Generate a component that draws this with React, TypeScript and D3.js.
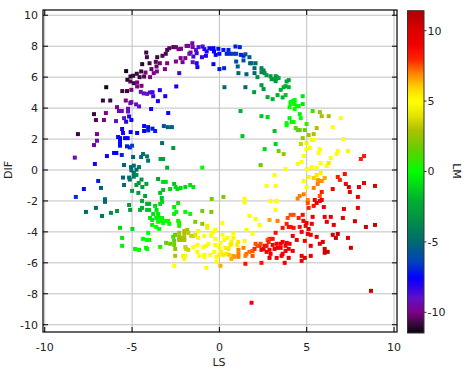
import React from "react";
import * as d3 from "d3";

// [LS, DIF, LM], grouped by region
const upperLeft: [number, number, number][] = [
  [-2.87,7.87,-10.5],[-2.64,7.94,-10.5],[-2.49,7.94,-10.3],[-2.34,7.81,-10],[-2.2,7.83,-10],[-1.88,8.02,-9.8],[-1.78,8.02,-9.8],[-1.55,8.19,-9.8],[-1.53,7.94,-9.5],[-1.34,7.76,-9],
  [-1.19,7.94,-8.8],[-0.96,7.98,-8.5],[-0.86,7.81,-8.2],[-0.73,7.66,-8],[-0.57,7.87,-7.8],[-0.44,7.83,-7.6],[-0.34,7.87,-7.5],[-0.31,7.66,-7.5],[-0.21,7.44,-7.5],[-0.06,7.83,-7.4],
  [0,7.51,-7.3],[0.23,7.76,-7.2],[0.52,7.76,-7],[0.61,7.51,-6.8],[0.92,7.98,-7],[0.96,7.51,-6.5],[0.8,7.51,-6.6],[0.42,7.51,-7],[-0.77,7.38,-8],[-1.0,7.29,-8.3],
  [-1.3,7.55,-8.5],[-1.65,7.59,-9.6],[-1.72,7.51,-9.4],[-1.49,7.33,-8.5],[-1.53,6.97,-9],[-1.3,6.9,-8],[-1.26,6.65,-7.8],[-0.34,6.84,-7.5],[0,6.52,-7.2],[0.27,6.58,-7],
  [0.96,7.01,-6.2],[1.05,6.69,-5.5],[1.09,6.26,-5],[0.29,5.35,-5],[-2.11,6.97,-9.8],[-1.95,7.23,-10],[-2.22,7.23,-10],[-2.49,7.01,-10],[-2.3,6.26,-8.5],[-2.47,5.4,-7.8],
  [-2.99,6.9,-10],[-3.12,6.52,-10],[-3.41,6.9,-10.2],[-3.56,7.29,-10.8],[-3.26,7.38,-10.6],[-3.07,7.51,-10.6],[-2.99,7.76,-10.6],[-4.19,7.59,-10.8],[-4.15,7.29,-10.6],[-4.0,6.9,-10.8],
  [-3.64,6.99,-10.5],[-3.6,6.69,-10.3],[-3.89,6.52,-10.3],[-3.76,6.26,-10],[-4.23,6.3,-10],[-4.42,6.84,-11],[-4.48,6.37,-10.8],[-4.73,6.22,-10.8],[-4.57,6.0,-10.8],[-4.31,6.04,-10.6],
  [-3.97,6.0,-10],[-3.58,6.37,-10],[-5.34,6.39,-11.3],[-5.09,6.04,-11],[-4.94,6.09,-10.8],[-5.27,5.83,-11],[-5.1,5.72,-10.5],[-4.9,5.61,-10.8],[-4.71,5.66,-10],[-4.71,5.4,-10],
  [-4.46,5.44,-10],[-5.04,5.18,-10],[-5.29,5.1,-10.8],[-5.56,5.1,-10.8],[-6.48,5.35,-11.3],[-6.67,4.49,-10.8],[-6.25,4.49,-10.8],[-5.86,4.06,-10],[-5.75,3.81,-9.5],[-5.59,3.81,-9.2],
  [-5.36,4.49,-10],[-5.1,4.32,-9.5],[-5.04,4.39,-9.5],[-5.23,3.96,-9.3],[-5.23,3.78,-9],[-4.77,4.24,-9],[-4.6,4.11,-9],[-4.5,5.05,-9.2],[-4.33,4.95,-9],[-4.14,4.92,-9],
  [-3.98,5.01,-8.8],[-3.83,5.03,-8.5],[-3.79,4.77,-8.5],[-3.41,5.16,-8],[-3.1,4.77,-7.8],[-3.52,4.45,-7.8],[-3.91,3.94,-7.8],[-2.93,3.68,-7.6],[-5.17,3.46,-8],[-5.46,3.35,-9],
  [-5.34,3.12,-8],[-5.04,3.23,-7.8],[-7.18,3.61,-10.8],[-7.07,3.23,-10.5],[-6.5,3.68,-10],[-6.61,3.23,-10],[-5.92,3.16,-9],[-8.1,2.32,-10.8],[-7.01,2.32,-9.8],[-7.01,1.89,-9.3],
  [-7.18,1.61,-9.5],[-8.28,0.8,-9.3],[-7.13,0.39,-7.8],[-5.57,2.65,-7.8],[-5.52,2.39,-8],[-5.08,2.45,-7.5],[-4.71,2.39,-7.5],[-4.31,2.84,-7.5],[-4.08,2.77,-7.3],[-4.31,2.52,-7.5],
  [-3.83,2.67,-7.2],[-4.08,2.56,-7],[-3.68,2.52,-7],[-3.18,2.84,-6],[-2.95,2.77,-5.5],[-2.72,2.77,-5.3],[-5.8,2.13,-7.5],[-5.69,2.06,-7.5],[-5.4,2.06,-7.5],[-5.25,2.06,-7.5],
  [-5.69,1.81,-7.3],[-5.29,1.53,-7],[-5.13,1.46,-7],[-5.0,1.57,-6.5],[-5.69,1.57,-7.3],[-6.03,1.1,-7.5],[-5.9,1.1,-7.5],[-5.59,0.97,-7],[-6.44,0.9,-7.8],[-4.94,0.84,-5.3],
  [-4.48,0.84,-5],[-4.37,1.03,-5],[-4.14,0.88,-4.5],[-4.08,0.6,-4.5],[-3.28,1.74,-5],[-2.64,1.42,-3],[-3.37,0.71,-2.5],[-3.22,0.71,-2.5],[-5.46,0.32,-5.3],[-5.06,0.19,-5],
  [-4.9,0.28,-5],[-4.6,0.19,-4.2],[-5.04,-0.02,-5],[-4.9,-0.19,-4.8],[-4.75,0.02,-4.8],[-2.99,0.15,-2],[-0.98,0.15,0],[-5.52,-0.49,-5.3],[-5.17,-0.49,-4.8],[-5.13,-0.62,-4.5],
  [-4.9,-0.43,-4.5],[-4.75,-0.32,-3.5],[-4.46,-0.62,-3.5],[-6.94,-0.71,-7],[-7.76,-1.23,-7.3],[-5.46,-0.97,-5],[-4.75,-0.97,-3],[-4.62,-0.84,-3],[-4.41,-1.1,-3],[-4.18,-0.9,-2.5],
  [-3.51,-0.58,-2.5],[-3.22,-0.77,-1],[-3.07,-0.77,-1],[-2.59,-0.9,-1.5],[-2.51,-1.1,-1],[-2.22,-1.16,-1],[-1.95,-1.1,-1],[-1.67,-0.97,-0.8],[-1.49,-1.1,-0.5],[-2.4,-1.23,-1],
];

const lowerLeft: [number, number, number][] = [
  [-8.22,-1.74,-6.8],[-6.78,-1.16,-5.5],[-6.55,-1.89,-5],[-6.55,-2.06,-5],[-7.64,-2.71,-5],[-7.07,-2.45,-5],[-6.72,-2.97,-4.5],[-6.21,-2.77,-3.5],[-5.86,-2.65,-3],[-5.0,-1.35,-3],
  [-4.64,-1.48,-3],[-4.43,-2.0,-2.5],[-4.25,-1.68,-2.5],[-5.17,-2.26,-3],[-5.11,-2.58,-3],[-4.54,-2.58,-2],[-4.43,-2.45,-2],[-4.14,-2.19,-2],[-4.02,-2.19,-2],[-4.14,-2.58,-1.5],
  [-4.02,-2.58,-1.5],[-3.68,-2.32,-1],[-3.39,-2.19,-1],[-3.28,-2.06,-1],[-3.3,-1.81,-1.5],[-3.39,-1.48,-1.5],[-3.22,-1.29,-1.5],[-2.82,-1.23,-1.2],[-2.36,-2.13,-0.5],[-3.6,-2.58,-0.8],
  [-3.79,-2.84,-0.8],[-3.97,-3.1,-0.5],[-3.85,-3.23,-0.5],[-3.51,-2.84,-0.5],[-3.62,-3.1,-0.3],[-3.45,-3.1,-0.3],[-3.28,-3.1,-0.3],[-3.33,-3.29,0],[-3.51,-3.35,0],[-3.1,-3.29,0],
  [-2.93,-3.29,0],[-2.87,-3.48,0.2],[-3.22,-3.42,0],[-3.62,-3.68,0],[-3.45,-3.81,0],[-3.85,-3.55,-0.3],[-2.59,-2.84,-0.2],[-2.47,-2.71,-0.2],[-2.59,-2.39,-0.3],[-2.36,-3.29,0.2],
  [-2.3,-3.42,0.5],[-2.3,-3.61,0.5],[-1.95,-2.71,0],[-1.67,-2.84,0.2],[-1.38,-3.35,2],[-0.98,-2.65,2],[-0.98,-3.48,2.5],[-0.69,-3.61,4.5],[-0.69,-3.74,4.5],[-0.44,-1.87,2],
  [0.23,-1.74,2],[-0.46,-2.71,2],[-5.69,-3.74,-1],[-4.98,-3.81,-1],[-5.57,-4.39,-0.5],[-5.57,-4.9,-0.3],[-4.83,-5.1,0],[-4.6,-5.16,0],[-4.37,-4.45,0],[-4.14,-4.52,0],
  [-4.02,-4.52,0],[-4.2,-5.03,0],[-4.14,-5.1,0],[-4.08,-4.06,0],[-3.39,-4.97,0.5],[-3.05,-4.71,1.5],[-2.82,-4.77,1.5],[-2.59,-4.84,2],[-2.59,-4.58,1.5],[-2.64,-4.32,1],
  [-2.53,-4.19,1.5],[-2.3,-4.06,3],[-2.3,-4.32,2.5],[-2.3,-4.52,2.5],[-2.13,-4.52,2.8],[-2.01,-4.52,3],[-2.01,-4.39,3],[-2.18,-4.39,2.8],[-1.84,-3.87,3],[-1.78,-4.06,3.2],
  [-2.01,-3.94,3],[-2.01,-4.13,3],[-1.61,-4.26,3.5],[-1.49,-4.26,3.5],[-1.38,-4.19,4],[-1.21,-3.94,4.8],[-1.21,-4.39,4.8],[-2.53,-5.1,2.5],[-2.53,-5.55,3],[-2.59,-6.19,5],
  [-2.07,-5.55,4.5],[-1.95,-5.55,4.8],[-2.01,-5.74,4.8],[-1.9,-5.1,3.5],[-1.78,-5.16,3.5],[-1.95,-4.97,3.5],[-1.49,-4.97,5],[-1.26,-4.84,5],[-1.26,-5.29,5],[-1.15,-5.55,5],
  [-0.92,-4.97,5],[-0.86,-5.48,5],[-0.86,-5.61,5],[-0.75,-4.9,5],[-0.63,-4.77,5],[-0.86,-4.26,5],[-0.46,-4.26,5],[-0.46,-4.13,5],[-0.34,-4.0,5],[-0.23,-3.87,5],
  [-0.52,-5.48,5],[-0.29,-5.29,5],[-0.23,-4.45,5],[-0.23,-4.84,5],[0.06,-4.71,5],[0,-5.03,5],[0.11,-5.29,5.2],[-0.17,-5.61,5],[-0.17,-5.94,5],[0.17,-4.19,5],
  [0.17,-3.42,5],[0.8,-4.06,5.2],[0.46,-4.39,5],[0.8,-4.39,5.2],[0.29,-4.52,5],[0.69,-4.77,5.3],[0.69,-4.65,5.3],[0.34,-5.03,5.3],[0.52,-5.1,5.5],[0.4,-5.42,5.5],
  [0,-5.48,5.3],[0.23,-5.48,5.5],[0.57,-5.48,6],[0.8,-5.55,6.5],[0.86,-5.61,6.8],[1.09,-5.16,7],[1.09,-5.42,7],[1.09,-5.61,7],[0.69,-5.74,6.5],[0.06,-6.19,6.5],
  [-0.75,-6.32,5],[0.63,-4.84,5.5],[1.07,-4.65,5.5],[1.03,-4.84,5.5],
];

const upperRight: [number, number, number][] = [
  [1.17,7.94,-7],[1.23,7.44,-7],[1.38,7.38,-7],[1.49,7.48,-6],[1.72,7.29,-5.5],[1.76,6.9,-5.5],[1.84,6.9,-5.3],[2.07,6.9,-5],[1.38,7.08,-6],[2.01,6.58,-5],
  [2.01,6.26,-5],[1.55,6.19,-5.5],[2.41,6.58,-4],[2.53,6.43,-4],[2.41,6.32,-4],[2.59,6.26,-3.5],[2.7,6.13,-3],[2.93,6.06,-3],[3.22,6.06,-3],[2.99,5.87,-3],
  [3.1,5.87,-3],[3.22,5.87,-2.5],[3.28,6.0,-3],[3.39,5.94,-2.5],[3.22,5.74,-3],[3.85,5.72,-2.5],[3.97,5.81,-2.5],[2.18,6.0,-3.5],[2.41,5.48,-3],[2.53,5.23,-3],
  [1.99,5.03,-3],[1.49,5.35,-5],[2.76,4.71,-2],[3.05,4.58,-2],[3.33,4.84,-2],[3.51,5.18,-2],[3.68,5.35,-2],[3.79,5.42,-2],[3.97,5.35,-2],[3.62,4.69,-2],
  [3.79,4.84,-1.5],[4.08,4.39,0],[4.2,4.45,0],[4.08,4.26,0],[4.31,4.26,0],[4.43,4.13,0],[4.54,4.13,0],[4.31,4.52,0],[4.02,4.06,0],[4.31,3.94,0],
  [4.77,4.77,-0.5],[4.77,4.26,-0.5],[1.21,3.81,-2],[2.41,3.48,-1.5],[2.76,3.42,-1],[4.02,3.35,-0.3],[4.6,3.61,-0.3],[4.66,3.35,0],[4.14,3.1,0],[4.25,3.1,0],
  [3.85,3.03,0],[3.85,2.9,0],[4.37,2.71,1],[4.48,2.58,1.5],[4.6,2.58,1.5],[4.89,2.58,1.5],[4.99,2.97,1],[5.34,3.81,1],[5.75,3.74,2.5],[5.86,3.48,3],
  [6.26,3.48,3],[6.95,3.35,5],[5.57,2.71,3],[6.49,2.77,5],[3.16,2.52,-1.5],[1.32,2.19,-1.5],[4.77,2.06,2.5],[5.11,2.26,3],[5.4,2.32,3],[5.29,1.94,5],
  [5.4,1.94,5],[4.99,1.74,4.5],[4.66,1.68,3.5],[7.09,2.0,5],[3.22,1.68,-1],[2.59,1.35,-1],[3.39,1.23,2],[3.68,1.03,2.5],[2.36,0.32,1.5],[4.99,1.35,5],
  [5.17,1.42,5],[5.75,1.35,5],[5.69,1.1,5],[6.78,1.23,5],[6.72,1.03,5],[7.36,1.23,5.2],[6.38,0.77,5],[4.83,0.9,5],[4.71,0.52,5],[4.48,0.39,5],
  [3.79,0.06,5],[3.16,-0.32,5],[2.7,-1.03,5],[3.22,-1.03,5],[4.83,-0.71,5],[4.99,-1.1,5],[5.02,0.06,5],[5.11,-0.45,5.3],[5.29,0.19,5],[5.57,0.13,5],
  [5.8,0.45,5],[5.8,-0.19,5.3],[6.15,0.26,5],[6.26,0.45,5.5],[5.57,-0.32,5.5],[5.4,-0.52,6],[5.63,-0.64,6.5],[5.75,-0.71,6.8],[5.86,-0.71,6.8],[6.03,-0.52,6.5],
  [5.63,-0.9,7],[5.4,-1.16,7],[6.78,-0.45,8.2],[6.9,-0.64,8],[7.18,-0.26,8.5],[7.24,-0.9,9],[7.41,-1.1,9.5],[7.99,-1.1,9.5],[8.28,-0.84,9.5],[8.91,-1.03,10],
  [8.1,0.71,8],[8.28,0.9,8.2],[6.49,-1.23,9],
];

const lowerRight: [number, number, number][] = [
  [1.44,-1.85,5],[1.44,-2.11,5],[2.93,-2.0,5],[3.28,-2.0,5],[3.22,-2.58,5],[1.72,-2.97,5],[2.07,-3.16,5],[2.3,-3.55,5],[1.55,-3.87,5],[1.9,-4.13,5],
  [2.87,-3.23,6.5],[3.33,-3.29,7],[3.91,-3.1,7.5],[4.08,-2.9,7.5],[4.25,-2.9,7.5],[4.54,-3.1,8],[4.77,-2.9,8.5],[3.85,-3.48,8],[3.97,-3.68,8.5],[4.08,-3.68,8.5],
  [4.25,-3.74,8.5],[3.62,-3.74,8.5],[3.22,-4.06,8.5],[4.71,-4.0,9],[4.6,-3.68,8.5],[4.81,-3.29,9],[4.94,-3.61,9],[4.99,-3.42,9],[5.29,-3.48,9],[5.11,-3.81,9],
  [4.48,-1.85,7],[4.6,-1.68,7],[4.83,-1.57,7],[5.06,-1.94,7],[5.06,-2.13,7.5],[5.11,-2.45,8],[5.4,-2.32,8.5],[5.46,-1.94,9],[5.57,-2.13,9],[5.75,-2.0,9],
  [5.86,-1.94,9],[5.86,-1.42,8.2],[5.75,-1.68,7.5],[5.98,-2.39,9],[5.34,-3.03,9],[6.15,-3.35,9.2],[6.03,-3.03,9.2],[6.38,-3.03,9.2],[6.55,-3.55,9.5],[7.07,-3.1,9.5],
  [7.13,-2.52,9.5],[7.93,-2.45,9.5],[7.93,-1.74,9.5],[7.47,-1.42,9.5],[7.76,-3.31,10.5],[8.39,-3.68,10.5],[8.91,-3.55,10.5],[6.49,-4.19,10.5],[6.67,-4.39,10.5],[6.78,-4.13,10.5],
  [7.36,-4.39,10],[7.53,-5.03,10.5],[5.57,-4.32,9.5],[5.23,-4.19,9],[5.06,-4.13,9],[4.89,-4.58,9],[5.23,-4.9,9.5],[5.75,-4.77,9.5],[5.92,-4.65,9.8],[6.03,-5.1,10.5],
  [6.2,-5.29,10.5],[6.03,-5.35,10.5],[5.23,-5.55,9.5],[4.89,-5.68,9.5],[4.71,-5.87,9.5],[4.43,-4.52,9],[4.2,-4.26,9],[4.02,-4.77,9],[4.2,-5.23,9],[3.97,-5.1,9],
  [3.79,-4.9,9],[3.79,-5.23,9],[3.85,-4.71,9],[3.62,-4.65,9],[3.51,-4.77,9],[3.51,-5.03,9],[3.62,-5.42,9],[3.56,-5.55,9],[3.33,-5.03,9],[3.28,-4.77,9],
  [3.16,-5.1,9],[3.05,-4.45,8.5],[3.05,-4.84,9],[2.87,-4.45,8],[2.76,-4.52,7.5],[2.82,-4.65,8],[2.7,-4.9,8.5],[2.87,-5.16,9],[2.7,-5.29,9],[2.93,-5.42,9],
  [2.87,-5.68,9],[3.28,-5.68,9],[3.97,-5.68,9],[3.74,-6.0,9],[2.41,-5.16,9],[2.53,-5.1,9],[2.59,-4.9,8.5],[2.3,-4.9,8.5],[2.36,-4.77,7.5],[2.18,-4.9,7.5],
  [2.07,-4.77,7.5],[2.01,-5.1,8],[1.9,-5.23,7.5],[1.9,-5.55,7.5],[1.72,-5.29,7.2],[1.55,-5.42,7.2],[1.49,-5.55,7],[1.38,-5.03,7],[1.44,-4.58,5],[2.41,-6.0,8.5],
  [1.49,-6.06,8.5],[4.71,-5.55,9.5],[1.84,-8.58,9],[8.68,-7.81,10.5],
];

const xTicks = [-10, -5, 0, 5, 10];
const yTicks = [-10, -8, -6, -4, -2, 0, 2, 4, 6, 8, 10];
const cbTicks = [-10, -5, 0, 5, 10];
const cbStopValues = [-11.5, -10.8, -10, -9, -8, -7.5, -6.5, -5, -3.5, -2, 0, 1.5, 3, 4, 5, 6, 7, 8, 9, 10, 11.4];
const cbStopColors = ["#08000f", "#3a0a3e", "#800088", "#6010c8", "#2000f0", "#0000ff", "#0040c0", "#006a70", "#008f48", "#00b030", "#00ff00", "#60d000", "#b0c000", "#e6e600", "#ffff00", "#ffd000", "#ff8000", "#ff2000", "#f00000", "#dd0000", "#b00000"];

export default function App() {
  const W = 468, H = 370;
  const x = d3.scaleLinear().domain([-10.1, 10.17]).range([43, 397]);
  const y = d3.scaleLinear().domain([-10.47, 10.34]).range([332, 10]);
  const color = d3.scaleLinear<string>().domain(cbStopValues).range(cbStopColors).clamp(true);
  const cb = d3.scaleLinear().domain([-11.47, 11.42]).range([333, 10.7]);
  const all = [...upperLeft, ...lowerLeft, ...upperRight, ...lowerRight];
  const font = "DejaVu Sans, sans-serif";
  const sz = 4;
  const gradStops = d3.range(0, 101).map((i) => {
    const v = 11.42 - (i / 100) * (11.42 + 11.47);
    return { off: i, col: color(v) };
  });
  const fmt = (t: number) => String(t);
  return (
    <svg width={W} height={H} style={{ position: "absolute", left: 0, top: 0, background: "#fff" }} fontFamily={font}>
      <defs>
        <linearGradient id="cbg" x1="0" y1="0" x2="0" y2="1">
          {gradStops.map((s, i) => (
            <stop key={i} offset={`${s.off}%`} stopColor={s.col} />
          ))}
        </linearGradient>
        <clipPath id="plotclip"><rect x={43} y={10} width={354} height={322} /></clipPath>
      </defs>
      <rect x={0} y={0} width={W} height={H} fill="#fff" />
      {xTicks.map((t) => (
        <line key={"gx" + t} x1={x(t)} x2={x(t)} y1={10} y2={332} stroke="#c0c0c0" strokeWidth={1} />
      ))}
      {yTicks.map((t) => (
        <line key={"gy" + t} x1={43} x2={397} y1={y(t)} y2={y(t)} stroke="#c0c0c0" strokeWidth={1} />
      ))}
      <g clipPath="url(#plotclip)">
        {all.map((p, i) => (
          <rect key={i} x={x(p[0]) - sz / 2} y={y(p[1]) - sz / 2} width={sz} height={sz} fill={color(p[2])} />
        ))}
      </g>
      {xTicks.map((t) => (
        <g key={"tx" + t}>
          <line x1={x(t)} x2={x(t)} y1={332} y2={327} stroke="#000" />
          <line x1={x(t)} x2={x(t)} y1={10} y2={15} stroke="#000" />
          <text x={x(t)} y={351} textAnchor="middle" fontSize={11} fill="#222">{fmt(t)}</text>
        </g>
      ))}
      {yTicks.map((t) => (
        <g key={"ty" + t}>
          <line x1={43} x2={48} y1={y(t)} y2={y(t)} stroke="#000" />
          <line x1={397} x2={392} y1={y(t)} y2={y(t)} stroke="#000" />
          <text x={38} y={y(t) + 4} textAnchor="end" fontSize={11} fill="#222">{fmt(t)}</text>
        </g>
      ))}
      <rect x={43} y={10} width={354} height={322} fill="none" stroke="#000" strokeWidth={1.2} />
      <text x={219} y={366} textAnchor="middle" fontSize={11} fill="#222">LS</text>
      <text transform={`translate(12,${y(0)}) rotate(-90)`} textAnchor="middle" fontSize={11} fill="#222">DIF</text>
      <rect x={407.5} y={10.7} width={16.5} height={322.3} fill="url(#cbg)" stroke="#333" strokeWidth={1} />
      {cbTicks.map((t) => (
        <g key={"cb" + t}>
          <line x1={424} x2={426.5} y1={cb(t)} y2={cb(t)} stroke="#333" />
          <text x={427.5} y={cb(t) + 4} fontSize={11} fill="#222">{fmt(t)}</text>
        </g>
      ))}
      <text transform={`translate(453,171) rotate(90)`} textAnchor="middle" fontSize={11} fill="#222">LM</text>
    </svg>
  );
}
